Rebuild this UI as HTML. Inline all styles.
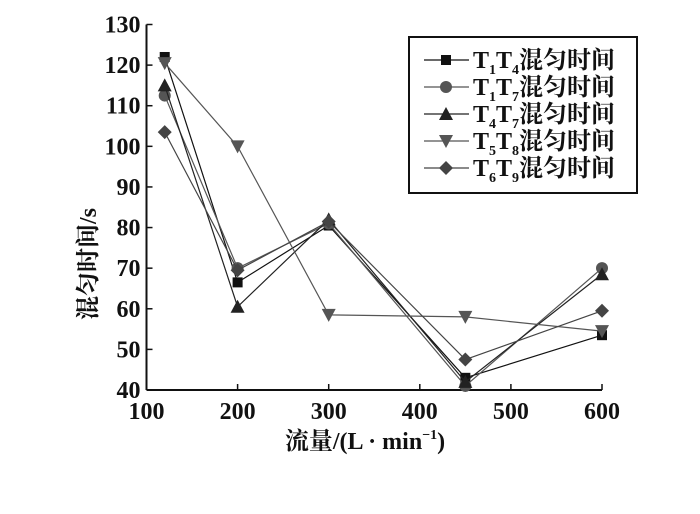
<!DOCTYPE html>
<html><head><meta charset="utf-8"><style>
body{margin:0;background:#fff}
svg text{font-family:"Liberation Serif","Noto Serif CJK SC",serif;font-weight:bold;fill:#111}
</style></head><body>
<svg width="700" height="509" viewBox="0 0 700 509">
<g id="axes"></g><g id="series"></g><g id="legend"></g>
</svg>
<script>
const xCats=[120,200,300,450,600];
const xTicks=[100,200,300,400,500,600];
const yTicks=[40,50,60,70,80,90,100,110,120,130];
const sT1T4=[122,66.5,80.5,43,53.5];
const sT1T7=[112.5,70,81,41,70];
const sT4T7=[115,60.5,82,42,68.5];
const sT5T8=[120.5,100,58.5,58,54.5];
const sT6T9=[103.5,69.5,81.5,47.5,59.5];
const names=[["T","1","T","4"],["T","1","T","7"],["T","4","T","7"],["T","5","T","8"],["T","6","T","9"]];
const NS="http://www.w3.org/2000/svg";
const X0=146.5,X1=602,Y0=390,Y1=24.5;
const xs=v=>X0+(v-100)/500*(X1-X0);
const ys=v=>Y0-(v-40)/90*(Y0-Y1);
function mk(t,a,p){const e=document.createElementNS(NS,t);for(const k in a)e.setAttribute(k,a[k]);p.appendChild(e);return e;}
const ax=document.getElementById('axes');
let l=mk('line',{x1:X0,y1:Y0,x2:X1,y2:Y0,stroke:'#111','stroke-width':2},ax);


l=mk('line',{x1:X0,y1:Y0,x2:X0,y2:Y1,stroke:'#111','stroke-width':2},ax);


xTicks.forEach(v=>{mk('line',{x1:xs(v),y1:Y0,x2:xs(v),y2:Y0-6,stroke:'#111','stroke-width':1.5},ax);
const t=mk('text',{x:xs(v),y:Y0+29,'text-anchor':'middle','font-size':24},ax);t.textContent=v;

});
yTicks.forEach(v=>{mk('line',{x1:X0,y1:ys(v),x2:X0+6,y2:ys(v),stroke:'#111','stroke-width':1.5},ax);
const t=mk('text',{x:X0-6,y:ys(v)+8,'text-anchor':'end','font-size':24},ax);t.textContent=v;

});
let t=mk('text',{x:365,y:449,'text-anchor':'middle','font-size':24},ax);
t.innerHTML='流量/(L · min<tspan font-size="14" dy="-10">−1</tspan><tspan dy="10">)</tspan>';


t=mk('text',{x:0,y:0,'text-anchor':'middle','font-size':24,transform:'translate(96,264) rotate(-90)'},ax);
t.textContent='混匀时间/s';


const series=[sT1T4,sT1T7,sT4T7,sT5T8,sT6T9];
const cols=['#111','#555','#222','#555','#444'];
const shapes=['square','circle','tri','tridown','diamond'];
function marker(s,x,y,c,p){
 if(s=='square')return mk('rect',{x:x-5,y:y-5,width:10,height:10,fill:c},p);
 if(s=='circle')return mk('circle',{cx:x,cy:y,r:6,fill:c},p);
 if(s=='tri')return mk('polygon',{points:`${x},${y-7} ${x-7},${y+6} ${x+7},${y+6}`,fill:c},p);
 if(s=='tridown')return mk('polygon',{points:`${x},${y+7} ${x-7},${y-6} ${x+7},${y-6}`,fill:c},p);
 return mk('polygon',{points:`${x},${y-7} ${x+7},${y} ${x},${y+7} ${x-7},${y}`,fill:c},p);
}
const sg=document.getElementById('series');
series.forEach((s,i)=>{
 const g=mk('g',{},sg);
 
 
 mk('polyline',{points:s.map((v,j)=>xs(xCats[j])+','+ys(v)).join(' '),fill:'none',stroke:cols[i],'stroke-width':1.2},g);
 s.forEach((v,j)=>{const m=marker(shapes[i],xs(xCats[j]),ys(v),cols[i],g);
 
 });
});
const lg=document.getElementById('legend');
const box=mk('rect',{x:409,y:37,width:228,height:156,fill:'#fff',stroke:'#111','stroke-width':2},lg);


names.forEach((n,i)=>{
 const y=60+i*27;
 const g=mk('g',{},lg);
 
 
 mk('line',{x1:424,y1:y,x2:469,y2:y,stroke:cols[i],'stroke-width':1.2},g);
 marker(shapes[i],446,y,cols[i],g);
 const tx=mk('text',{x:473,y:y+8,'font-size':24},g);
 tx.innerHTML=`T<tspan font-size="14" dy="6">${n[1]}</tspan><tspan dy="-6">T</tspan><tspan font-size="14" dy="6">${n[3]}</tspan><tspan dy="-6">混匀时间</tspan>`;
});
</script>
</body></html>
